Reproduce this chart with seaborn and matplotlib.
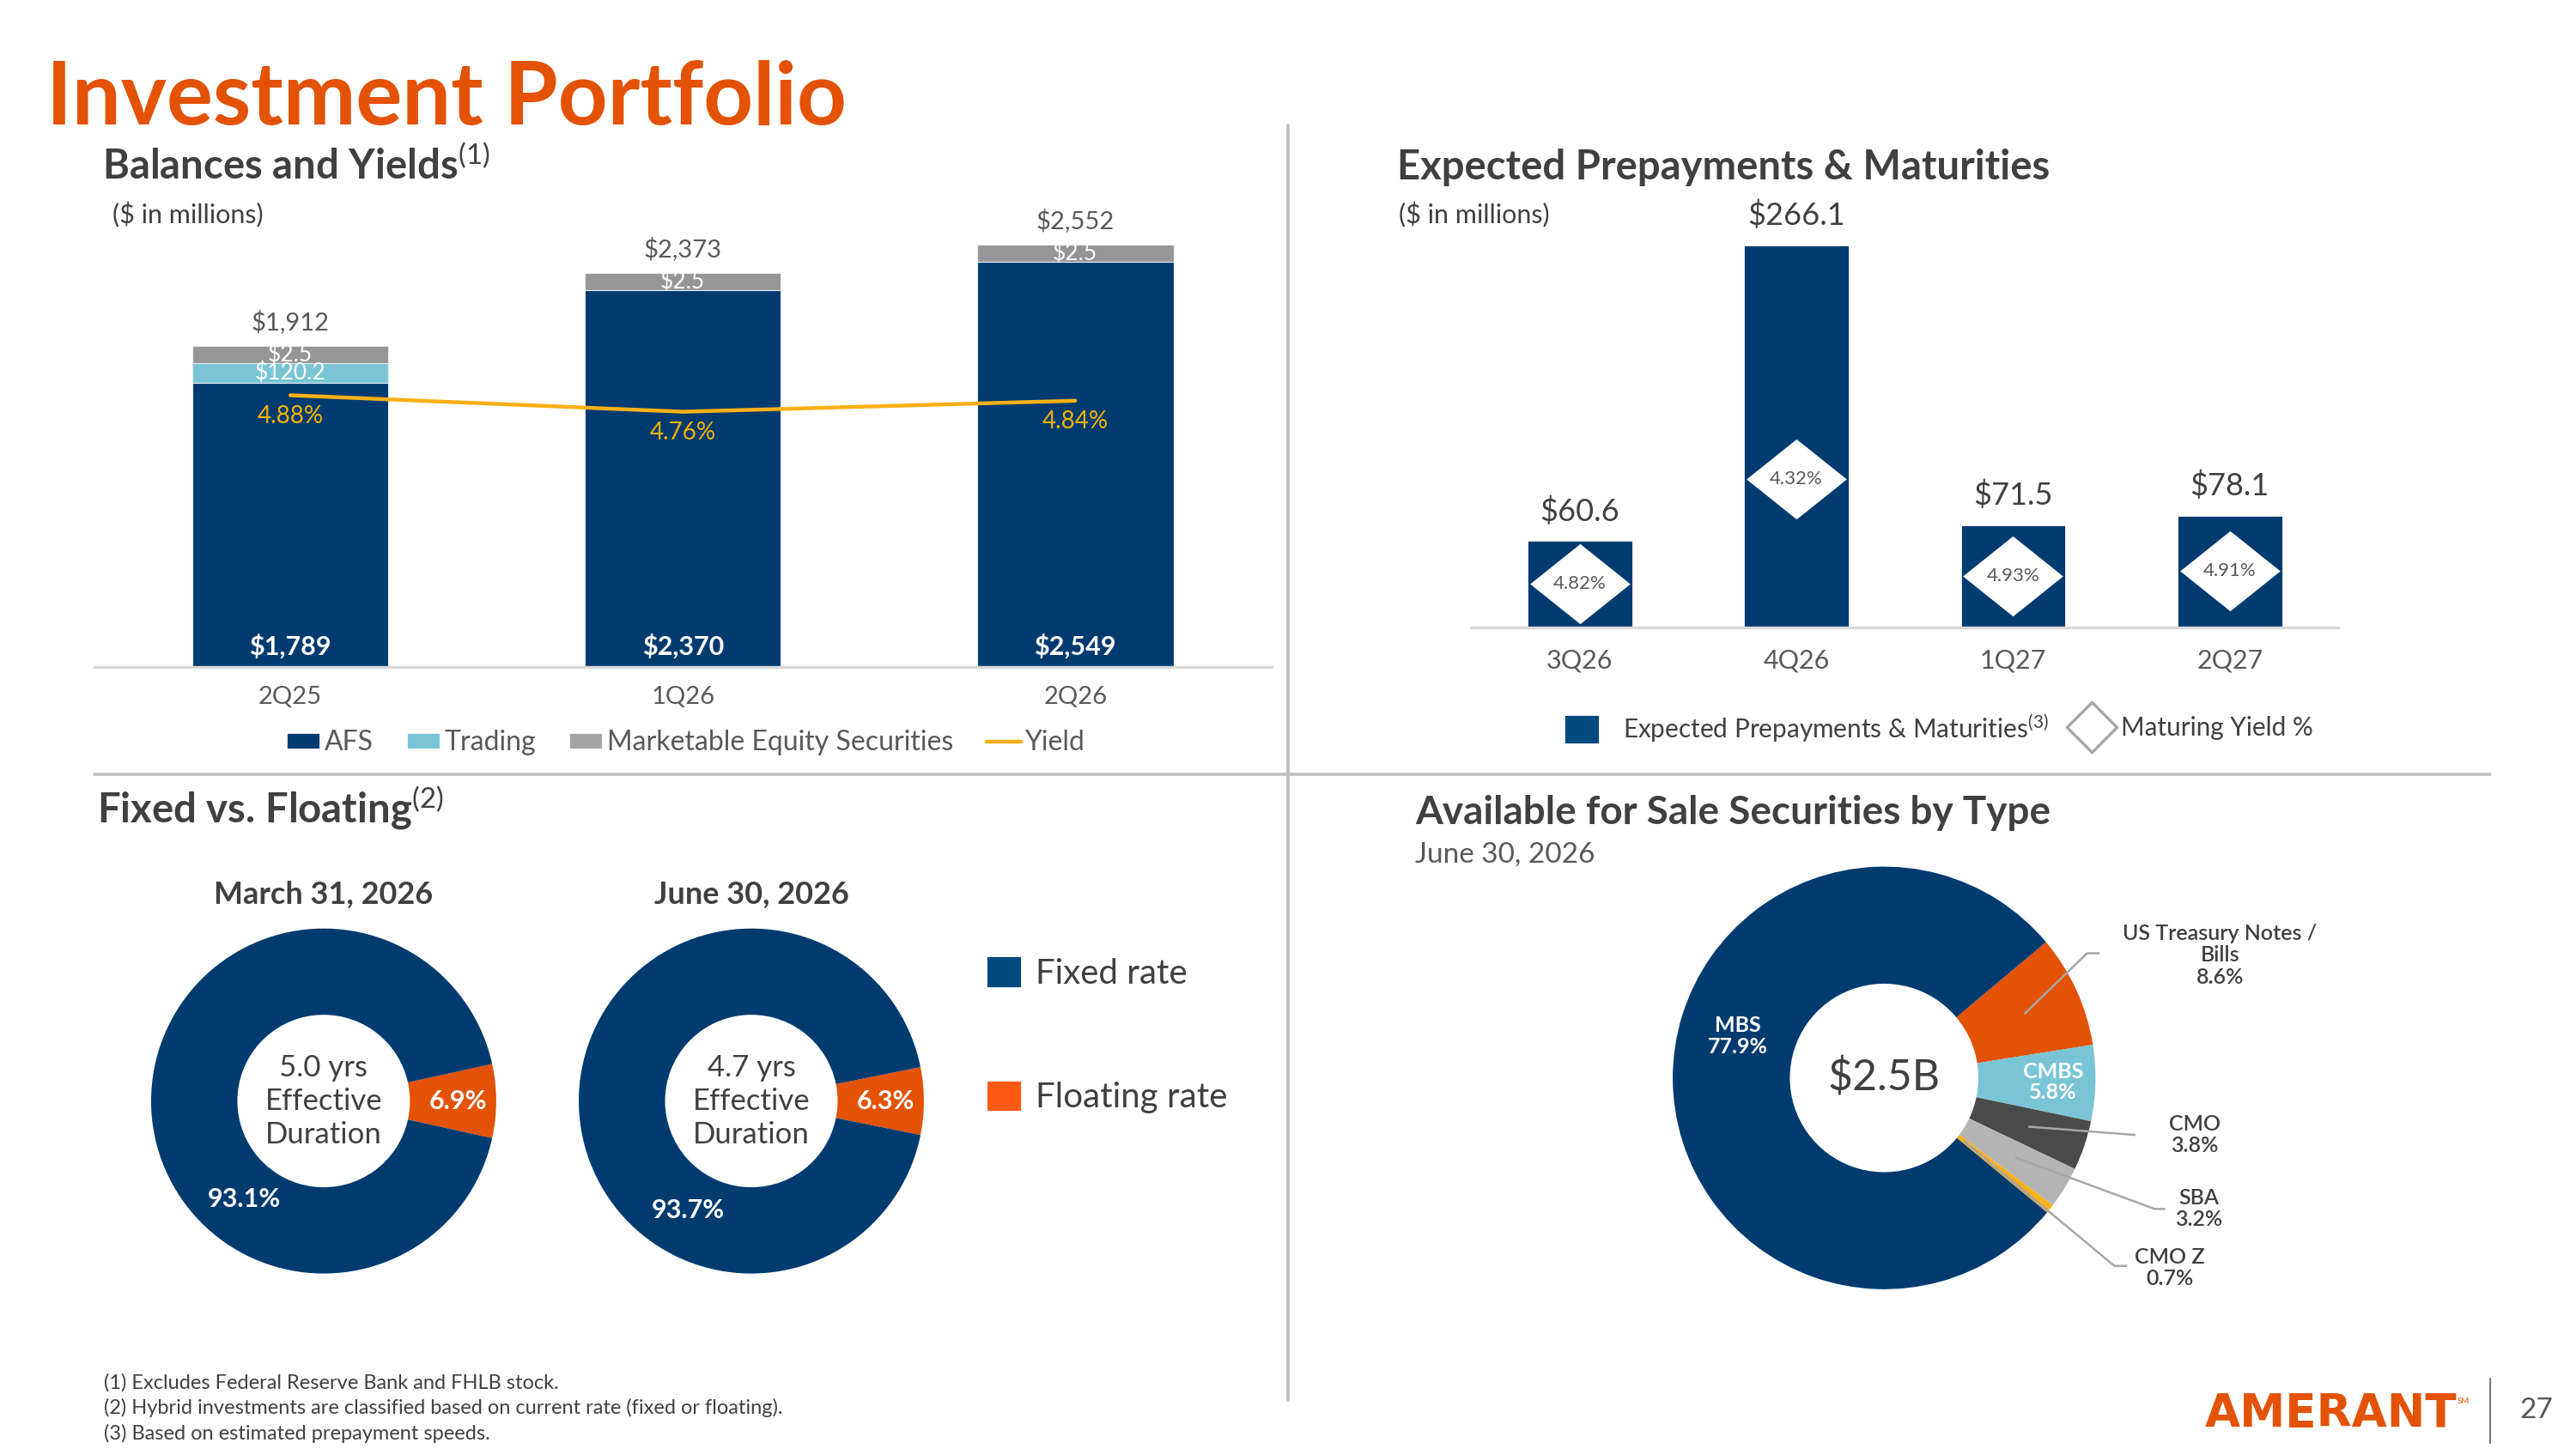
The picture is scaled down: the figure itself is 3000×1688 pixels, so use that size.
import numpy as np
import matplotlib
matplotlib.use("Agg")
import matplotlib.pyplot as plt
from matplotlib.patches import Patch
from matplotlib.lines import Line2D
from matplotlib.path import Path
import seaborn as sns

# ---------------- data ----------------
quarters = ["2Q25", "1Q26", "2Q26"]
afs = [1789, 2370, 2549]
trading = [120.2, 0, 0]
equity = [2.5, 2.5, 2.5]
totals = [1912, 2373, 2552]
yields = [4.88, 4.76, 4.84]

mat_quarters = ["3Q26", "4Q26", "1Q27", "2Q27"]
prepay = [60.6, 266.1, 71.5, 78.1]
mat_yield = [4.82, 4.32, 4.93, 4.91]

donut_dates = ["March 31, 2026", "June 30, 2026"]
fixed_pct = [93.1, 93.7]
floating_pct = [6.9, 6.3]
duration = ["5.0 yrs", "4.7 yrs"]

afs_types = ["US Treasury Notes /\nBills", "CMBS", "CMO", "SBA", "CMO Z", "MBS"]
afs_share = [8.6, 5.8, 3.8, 3.2, 0.7, 77.9]
afs_total = "$2.5B"

footnotes = [
    "(1) Excludes Federal Reserve Bank and FHLB stock.",
    "(2) Hybrid investments are classified based on current rate (fixed or floating).",
    "(3) Based on estimated prepayment speeds.",
]

# ---------------- style ----------------
NAVY = "#003B70"
NAVY_LEG = "#004A80"
TEAL = "#79C5D5"
GREY_BAR = "#969696"
GREY_LEG = "#A6A6A6"
GOLD = "#FBB017"
GOLD_TXT = "#F5B400"
ORANGE = "#E35205"
ORANGE_LEG = "#FF5A13"
DARK = "#4A4A4A"
LIGHT = "#B4B4B4"
TEXT = "#404040"
TEXT2 = "#595959"
DIV = "#BFBFBF"
AXLINE = "#D9D9D9"

EQUITY_BAND = 110    # tiny equity balances drawn as a visible band
DIAMOND_CAP = 103    # yield diamonds sit mid-bar, capped for the tall bar

sns.set_theme(style="white")
plt.rcParams["font.family"] = ["Lato", "DejaVu Sans"]
plt.rcParams["mathtext.fontset"] = "custom"
plt.rcParams["mathtext.rm"] = "Lato"
plt.rcParams["mathtext.it"] = "Lato:italic"
plt.rcParams["mathtext.bf"] = "Lato:bold"

fig = plt.figure(figsize=(15, 8.44), dpi=200)

# layout helpers: positions measured on a 1560 x 877.8 grid
W0, H0 = 1560, 877.8
def fx(x):
    return x / W0
def fy(y):
    return 1 - y / H0
def box(l, t, r, b):
    return [fx(l), fy(b), (r - l) / W0, (b - t) / H0]

def clean(ax):
    for s in ax.spines.values():
        s.set_visible(False)
    ax.set_yticks([])
    ax.set_ylabel("")
    ax.set_xlabel("")

# ---------------- headings ----------------
fig.text(fx(28), fy(75.6), "Investment Portfolio", fontsize=36.3, fontweight="bold",
         color=ORANGE, va="baseline")
fig.text(fx(62), fy(108.6), r"Balances and Yields$^{\mathrm{(1)}}$", fontsize=17,
         fontweight="bold", color=TEXT, va="baseline")
fig.text(fx(68), fy(135.5), "($ in millions)", fontsize=11, color=TEXT, va="baseline")
fig.text(fx(846), fy(108.6), "Expected Prepayments & Maturities", fontsize=17,
         fontweight="bold", color=TEXT, va="baseline")
fig.text(fx(847), fy(135.5), "($ in millions)", fontsize=11, color=TEXT, va="baseline")
fig.text(fx(59), fy(498.7), r"Fixed vs. Floating$^{\mathrm{(2)}}$", fontsize=17,
         fontweight="bold", color=TEXT, va="baseline")
fig.text(fx(857), fy(499.4), "Available for Sale Securities by Type", fontsize=16.5,
         fontweight="bold", color=TEXT, va="baseline")
fig.text(fx(857), fy(522.3), "June 30, 2026", fontsize=12, color=TEXT2, va="baseline")

# dividers
fig.add_artist(Line2D([fx(780), fx(780)], [fy(76), fy(848)], color=DIV, lw=1.4,
                      transform=fig.transFigure))
fig.add_artist(Line2D([fx(57), fx(1508)], [fy(469), fy(469)], color=DIV, lw=1.3,
                      transform=fig.transFigure))

# ---------------- balances and yields ----------------
ax1 = fig.add_axes(box(57, 120, 770, 404))
afs_a = np.array(afs, dtype=float)
tr_a = np.array(trading, dtype=float)
eq_band = np.maximum(np.array(equity, dtype=float), EQUITY_BAND)
tops = afs_a + tr_a + eq_band

bar_kw = dict(width=0.5, saturation=1, errorbar=None, ax=ax1, edgecolor="#E6EEF5", linewidth=0.4)
sns.barplot(x=quarters, y=tops, color=GREY_BAR, **bar_kw)
sns.barplot(x=quarters, y=afs_a + tr_a, color=TEAL, **bar_kw)
sns.barplot(x=quarters, y=afs_a, color=NAVY, **bar_kw)
ax1.set_ylim(0, 2950)
ax1.set_xlim(-0.5, len(quarters) - 0.5)
clean(ax1)
ax1.spines["bottom"].set_visible(True)
ax1.spines["bottom"].set_color(AXLINE)
ax1.spines["bottom"].set_linewidth(1.2)
ax1.set_xticks(range(len(quarters)), quarters)
ax1.tick_params(axis="x", length=0, pad=8, labelsize=10.5, labelcolor=TEXT2)

for i in range(len(quarters)):
    ax1.annotate(f"${afs[i]:,}", (i, 0), xytext=(0, 3.5), textcoords="offset points",
                 ha="center", va="bottom", color="white", fontsize=11, fontweight="bold")
    ax1.text(i, afs[i] + trading[i] + eq_band[i] / 2, f"${equity[i]}", ha="center",
             va="center", color="white", fontsize=9.5)
    if trading[i] > 0:
        ax1.text(i, afs[i] + trading[i] / 2, f"${trading[i]}", ha="center", va="center",
                 color="white", fontsize=9.5)
    ax1.annotate(f"${totals[i]:,}", (i, tops[i]), xytext=(0, 5), textcoords="offset points",
                 ha="center", va="bottom", color=TEXT2, fontsize=10.5)

ax1b = ax1.twinx()
sns.lineplot(x=np.arange(len(quarters)), y=yields, color=GOLD, linewidth=1.6, ax=ax1b)
ax1b.set_ylim(2.904, 6.314)
clean(ax1b)
for i, y in enumerate(yields):
    ax1b.annotate(f"{y:.2f}%", (i, y), xytext=(0, -4), textcoords="offset points",
                  ha="center", va="top", color=GOLD_TXT, fontsize=10)
ax1.set_xlim(-0.5, len(quarters) - 0.5)

fig.legend(handles=[Patch(facecolor=NAVY), Patch(facecolor=TEAL), Patch(facecolor=GREY_LEG),
                    Line2D([], [], color=GOLD, lw=1.6)],
           labels=["AFS", "Trading", "Marketable Equity Securities", "Yield"],
           loc="center", bbox_to_anchor=(fx(415), fy(450)), ncol=4, frameon=False,
           fontsize=11.5, handlelength=1.25, handleheight=0.55, handletextpad=0.15,
           columnspacing=1.2, labelcolor=TEXT2, borderpad=0, borderaxespad=0)

# ---------------- expected prepayments & maturities ----------------
ax2 = fig.add_axes(box(891, 130, 1416, 380))
sns.barplot(x=mat_quarters, y=prepay, color=NAVY, width=0.49, saturation=1,
            errorbar=None, ax=ax2)
ax2.set_ylim(0, 287)
ax2.set_xlim(-0.5, len(mat_quarters) - 0.5)
clean(ax2)
ax2.spines["bottom"].set_visible(True)
ax2.spines["bottom"].set_color(AXLINE)
ax2.spines["bottom"].set_linewidth(1.2)
ax2.set_xticks(range(len(mat_quarters)), mat_quarters)
ax2.tick_params(axis="x", length=0, pad=9, labelsize=11, labelcolor=TEXT2)

diamond = Path([(0, 0.8), (1, 0), (0, -0.8), (-1, 0), (0, 0.8)],
               [Path.MOVETO, Path.LINETO, Path.LINETO, Path.LINETO, Path.CLOSEPOLY])
dy = np.minimum(np.array(prepay) / 2, DIAMOND_CAP)
ax2.plot(np.arange(len(mat_quarters)), dy, ls="none", marker=diamond, ms=42,
         mfc="white", mec="white", mew=0)
for i, v in enumerate(prepay):
    ax2.text(i, dy[i], f"{mat_yield[i]:.2f}%", ha="center", va="center", fontsize=8,
             color=TEXT2)
    ax2.annotate(f"${v}", (i, v), xytext=(0, 6), textcoords="offset points",
                 ha="center", va="bottom", fontsize=13, color=TEXT)

leg_diamond = Path([(0, 1), (1, 0), (0, -1), (-1, 0), (0, 1)],
                   [Path.MOVETO, Path.LINETO, Path.LINETO, Path.LINETO, Path.CLOSEPOLY])
fig.legend(handles=[Patch(facecolor=NAVY_LEG)],
           labels=[r"Expected Prepayments & Maturities$^{\mathrm{(3)}}$"],
           loc="center left", bbox_to_anchor=(fx(947), fy(441)), frameon=False,
           fontsize=10.7, handlelength=1.42, handleheight=1.42, handletextpad=0.9,
           labelcolor=TEXT, borderpad=0, borderaxespad=0)
fig.legend(handles=[Line2D([], [], ls="none", marker=leg_diamond, ms=21, mfc="white",
                           mec=GREY_LEG, mew=1.2)],
           labels=["Maturing Yield %"], loc="center left",
           bbox_to_anchor=(fx(1256), fy(441)), frameon=False, fontsize=10.7,
           handlelength=1.4, handletextpad=0.45, labelcolor=TEXT, borderpad=0,
           borderaxespad=0)

# ---------------- fixed vs floating donuts ----------------
centers = [(196, 667), (455, 667)]
R = 104.5
FIXED_LABEL_ANGLE = [231, 240]
for i, (cx, cy) in enumerate(centers):
    ax = fig.add_axes(box(cx - 1.1 * R, cy - 1.1 * R, cx + 1.1 * R, cy + 1.1 * R))
    ax.pie([floating_pct[i], fixed_pct[i]], colors=[ORANGE, NAVY],
           startangle=-floating_pct[i] * 1.8, counterclock=True, radius=1,
           wedgeprops=dict(width=0.5, linewidth=0))
    ax.set_xlim(-1.1, 1.1)
    ax.set_ylim(-1.1, 1.1)
    ax.text(0.78, 0, f"{floating_pct[i]}%", ha="center", va="center", color="white",
            fontsize=11, fontweight="bold")
    a = np.deg2rad(FIXED_LABEL_ANGLE[i])
    ax.text(0.73 * np.cos(a), 0.73 * np.sin(a), f"{fixed_pct[i]}%", ha="center",
            va="center", color="white", fontsize=11, fontweight="bold")
    ax.text(0, 0, f"{duration[i]}\nEffective\nDuration", ha="center", va="center",
            fontsize=12.5, color=TEXT, linespacing=1.27)
    fig.text(fx(cx), fy(547.5), donut_dates[i], ha="center", va="baseline",
             fontsize=13, fontweight="bold", color=TEXT)

fig.legend(handles=[Patch(facecolor=NAVY_LEG), Patch(facecolor=ORANGE_LEG)],
           labels=["Fixed rate", "Floating rate"], loc="upper left",
           bbox_to_anchor=(fx(597), fy(579)), frameon=False, fontsize=14.5,
           handlelength=1.05, handleheight=1.05, handletextpad=0.4, labelspacing=2.6,
           labelcolor=TEXT, borderpad=0, borderaxespad=0)

# ---------------- AFS by type donut ----------------
cx, cy, R2 = 1141, 653, 128
ax4 = fig.add_axes(box(cx - 1.15 * R2, cy - 1.15 * R2, cx + 2.4 * R2, cy + 1.15 * R2))
wedges, _ = ax4.pie(afs_share, colors=[ORANGE, TEAL, DARK, LIGHT, GOLD, NAVY],
                    startangle=40, counterclock=False, radius=1,
                    wedgeprops=dict(width=0.554, linewidth=0))
ax4.set_xlim(-1.15, 2.4)
ax4.set_ylim(-1.15, 1.15)
ax4.text(0, 0, afs_total, ha="center", va="center", fontsize=18, color=TEXT)

def mid_angle(w):
    return np.deg2rad((w.theta1 + w.theta2) / 2)

# inside labels
MBS_LABEL_ANGLE = np.deg2rad(164)
ax4.text(0.72 * np.cos(MBS_LABEL_ANGLE), 0.72 * np.sin(MBS_LABEL_ANGLE),
         f"{afs_types[5]}\n{afs_share[5]}%", ha="center", va="center", color="white",
         fontsize=9, fontweight="bold", linespacing=1.1)
a = mid_angle(wedges[1])
ax4.text(0.8 * np.cos(a), 0.8 * np.sin(a), f"{afs_types[1]}\n{afs_share[1]}%",
         ha="center", va="center", color="white", fontsize=9, fontweight="bold",
         linespacing=1.1)

# outside call-outs: text position, leader path, leader start radius
callouts = {
    0: dict(text=(1.59, 0.58), path=[(0.96, 0.59), (1.02, 0.59)], r=0.73),
    2: dict(text=(1.47, -0.27), path=[(1.19, -0.27)], r=0.72),
    3: dict(text=(1.49, -0.62), path=[(1.28, -0.62), (1.33, -0.62)], r=0.725),
    4: dict(text=(1.35, -0.90), path=[(1.09, -0.89), (1.15, -0.89)], r=0.48),
}
for k, c in callouts.items():
    a = mid_angle(wedges[k])
    xs = [c["r"] * np.cos(a)] + [p[0] for p in c["path"]]
    ys = [c["r"] * np.sin(a)] + [p[1] for p in c["path"]]
    ax4.plot(xs, ys, color=GREY_LEG, lw=0.9, solid_capstyle="butt")
    ax4.text(*c["text"], f"{afs_types[k]}\n{afs_share[k]}%", ha="center", va="center",
             color=TEXT, fontsize=9, fontweight="semibold", linespacing=1.12)

# ---------------- footnotes & logo ----------------
for y, t in zip([841, 856.6, 872], footnotes):
    fig.text(fx(63), fy(y), t, fontsize=8.5, color=TEXT, va="baseline")

fig.text(fx(1335), fy(864.5), "AMERANT", fontsize=19.2, fontweight="bold",
         family="DejaVu Sans", color=ORANGE, va="baseline")
fig.text(fx(1488), fy(850), "SM", fontsize=3.5, color=ORANGE, va="baseline")
fig.add_artist(Line2D([fx(1508), fx(1508)], [fy(835), fy(874)], color="#7F7F7F", lw=0.8,
                      transform=fig.transFigure))
fig.text(fx(1536), fy(859), "27", fontsize=12, color=TEXT2, ha="center", va="baseline")

fig.savefig("out.png", dpi=200)
